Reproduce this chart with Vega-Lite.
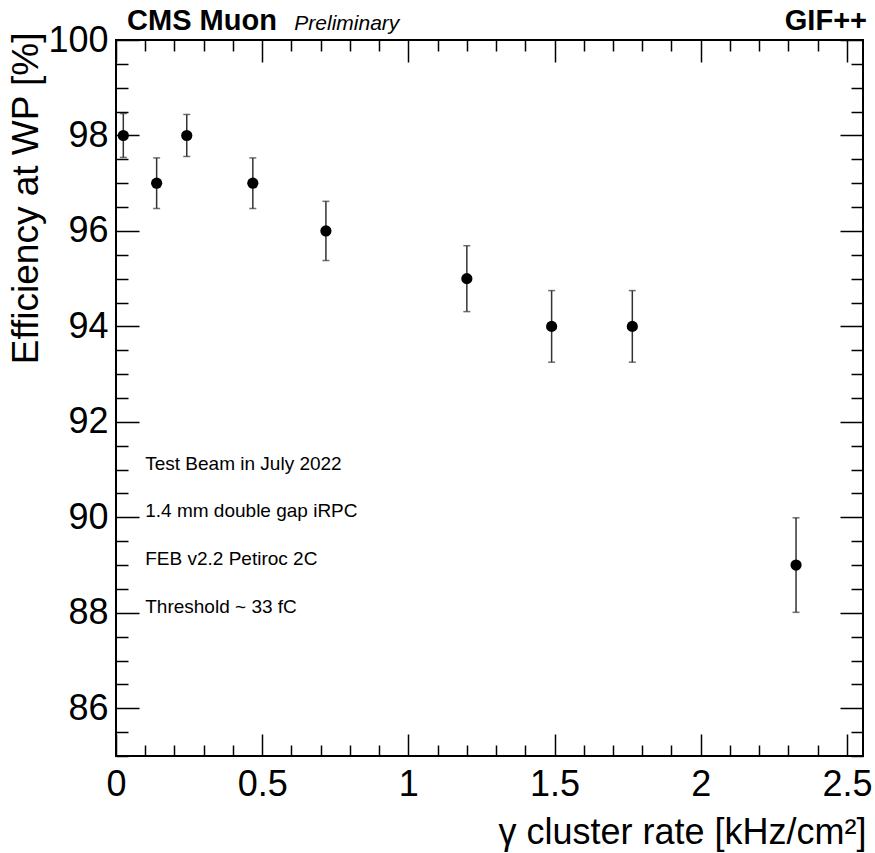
{
  "$schema": "https://vega.github.io/schema/vega-lite/v6.json",
  "autosize": "none",
  "width": 747,
  "height": 716,
  "padding": {"left": 116, "top": 40, "right": 12, "bottom": 97},
  "background": "white",
  "config": {
    "view": {"stroke": "black", "strokeWidth": 2},
    "axis": {
      "grid": false,
      "domain": false,
      "tickColor": "black",
      "tickWidth": 1.5,
      "labelFont": "Liberation Sans",
      "labelFontSize": 36,
      "labelColor": "black",
      "titleFont": "Liberation Sans",
      "titleFontWeight": "normal",
      "titleColor": "black",
      "labelOverlap": false,
      "labelFlush": false
    }
  },
  "data": {
    "values": [
      {"rate": 0.025, "eff": 98, "lo": 97.54, "hi": 98.46},
      {"rate": 0.139, "eff": 97, "lo": 96.47, "hi": 97.53},
      {"rate": 0.242, "eff": 98, "lo": 97.56, "hi": 98.44},
      {"rate": 0.468, "eff": 97, "lo": 96.47, "hi": 97.53},
      {"rate": 0.718, "eff": 96, "lo": 95.38, "hi": 96.62},
      {"rate": 1.2, "eff": 95, "lo": 94.31, "hi": 95.69},
      {"rate": 1.49, "eff": 94, "lo": 93.25, "hi": 94.75},
      {"rate": 1.766, "eff": 94, "lo": 93.25, "hi": 94.75},
      {"rate": 2.326, "eff": 89, "lo": 88.01, "hi": 89.99}
    ]
  },
  "layer": [
    {
      "mark": {"type": "rule", "color": "#333", "strokeWidth": 1.5},
      "encoding": {
        "x": {"field": "rate", "type": "quantitative",
          "scale": {"domain": [0, 2.555], "nice": false, "zero": false},
          "axis": {"orient": "bottom", "values": [0, 0.5, 1, 1.5, 2, 2.5], "format": "~g", "tickSize": -22, "labelPadding": 33,
            "labelBaseline": "top",
            "title": "γ cluster rate [kHz/cm²]", "titleFontSize": 36, "titleAlign": "right", "titleAnchor": "end", "titleBaseline": "alphabetic", "titleX": 750, "titleY": 87}},
        "y": {"field": "lo", "type": "quantitative",
          "scale": {"domain": [85, 100], "nice": false, "zero": false},
          "axis": {"orient": "left", "values": [86, 88, 90, 92, 94, 96, 98, 100], "format": "d", "tickSize": -23, "labelPadding": 31,
            "title": "Efficiency at WP [%]", "titleFontSize": 37, "titleAngle": -90, "titleAlign": "right", "titleAnchor": "end", "titleBaseline": "alphabetic", "titleX": -79, "titleY": -8}},
        "y2": {"field": "hi"}
      }
    },
    {
      "mark": {"type": "tick", "orient": "horizontal", "color": "#333", "size": 7, "thickness": 1.5},
      "encoding": {
        "x": {"field": "rate", "type": "quantitative",
          "scale": {"domain": [0, 2.555], "nice": false, "zero": false},
          "axis": {"orient": "bottom", "values": [0.1, 0.2, 0.3, 0.4, 0.6, 0.7, 0.8, 0.9, 1.1, 1.2, 1.3, 1.4, 1.6, 1.7, 1.8, 1.9, 2.1, 2.2, 2.3, 2.4], "tickSize": -11, "labels": false, "title": null}},
        "y": {"field": "lo", "type": "quantitative",
          "scale": {"domain": [85, 100], "nice": false, "zero": false},
          "axis": {"orient": "left", "values": [85, 85.5, 86.5, 87, 87.5, 88.5, 89, 89.5, 90.5, 91, 91.5, 92.5, 93, 93.5, 94.5, 95, 95.5, 96.5, 97, 97.5, 98.5, 99, 99.5], "tickSize": -12, "labels": false, "title": null}}
      }
    },
    {
      "mark": {"type": "tick", "orient": "horizontal", "color": "#333", "size": 7, "thickness": 1.5},
      "encoding": {
        "x": {"field": "rate", "type": "quantitative",
          "scale": {"domain": [0, 2.555], "nice": false, "zero": false},
          "axis": {"orient": "top", "values": [0, 0.5, 1, 1.5, 2, 2.5], "tickSize": -22, "labels": false, "title": null}},
        "y": {"field": "hi", "type": "quantitative",
          "scale": {"domain": [85, 100], "nice": false, "zero": false},
          "axis": {"orient": "right", "values": [86, 88, 90, 92, 94, 96, 98, 100], "tickSize": -23, "labels": false, "title": null}}
      }
    },
    {
      "mark": {"type": "point", "shape": "circle", "filled": true, "color": "black", "opacity": 1, "size": 125},
      "encoding": {
        "x": {"field": "rate", "type": "quantitative",
          "scale": {"domain": [0, 2.555], "nice": false, "zero": false},
          "axis": {"orient": "top", "values": [0.1, 0.2, 0.3, 0.4, 0.6, 0.7, 0.8, 0.9, 1.1, 1.2, 1.3, 1.4, 1.6, 1.7, 1.8, 1.9, 2.1, 2.2, 2.3, 2.4], "tickSize": -11, "labels": false, "title": null}},
        "y": {"field": "eff", "type": "quantitative",
          "scale": {"domain": [85, 100], "nice": false, "zero": false},
          "axis": {"orient": "right", "values": [85, 85.5, 86.5, 87, 87.5, 88.5, 89, 89.5, 90.5, 91, 91.5, 92.5, 93, 93.5, 94.5, 95, 95.5, 96.5, 97, 97.5, 98.5, 99, 99.5], "tickSize": -12, "labels": false, "title": null}}
      }
    },
    {
      "data": {"values": [{}]},
      "mark": {"type": "text", "text": "Test Beam in July 2022", "font": "Liberation Sans", "fontSize": 19, "align": "left", "baseline": "alphabetic", "color": "black"},
      "encoding": {"x": {"datum": 0.1, "type": "quantitative", "axis": null}, "y": {"datum": 91, "type": "quantitative", "axis": null}}
    },
    {
      "data": {"values": [{}]},
      "mark": {"type": "text", "text": "1.4 mm double gap iRPC", "font": "Liberation Sans", "fontSize": 19, "align": "left", "baseline": "alphabetic", "color": "black"},
      "encoding": {"x": {"datum": 0.1, "type": "quantitative", "axis": null}, "y": {"datum": 90, "type": "quantitative", "axis": null}}
    },
    {
      "data": {"values": [{}]},
      "mark": {"type": "text", "text": "FEB v2.2 Petiroc 2C", "font": "Liberation Sans", "fontSize": 19, "align": "left", "baseline": "alphabetic", "color": "black"},
      "encoding": {"x": {"datum": 0.1, "type": "quantitative", "axis": null}, "y": {"datum": 89, "type": "quantitative", "axis": null}}
    },
    {
      "data": {"values": [{}]},
      "mark": {"type": "text", "text": "Threshold ~ 33 fC", "font": "Liberation Sans", "fontSize": 19, "align": "left", "baseline": "alphabetic", "color": "black"},
      "encoding": {"x": {"datum": 0.1, "type": "quantitative", "axis": null}, "y": {"datum": 88, "type": "quantitative", "axis": null}}
    },
    {
      "data": {"values": [{}]},
      "mark": {"type": "text", "text": "CMS Muon", "font": "Liberation Sans", "fontWeight": "bold", "fontSize": 29, "align": "left", "baseline": "alphabetic", "dy": -10, "color": "black"},
      "encoding": {"x": {"datum": 0.038, "type": "quantitative", "axis": null}, "y": {"datum": 100, "type": "quantitative", "axis": null}}
    },
    {
      "data": {"values": [{}]},
      "mark": {"type": "text", "text": "Preliminary", "font": "Liberation Sans", "fontStyle": "italic", "fontSize": 21, "align": "left", "baseline": "alphabetic", "dy": -10, "color": "black"},
      "encoding": {"x": {"datum": 0.61, "type": "quantitative", "axis": null}, "y": {"datum": 100, "type": "quantitative", "axis": null}}
    },
    {
      "data": {"values": [{}]},
      "mark": {"type": "text", "text": "GIF++", "font": "Liberation Sans", "fontWeight": "bold", "fontSize": 29, "align": "right", "baseline": "alphabetic", "dy": -10, "dx": 4, "color": "black"},
      "encoding": {"x": {"datum": 2.555, "type": "quantitative", "axis": null}, "y": {"datum": 100, "type": "quantitative", "axis": null}}
    }
  ],
  "resolve": {"axis": {"x": "independent", "y": "independent"}}
}
